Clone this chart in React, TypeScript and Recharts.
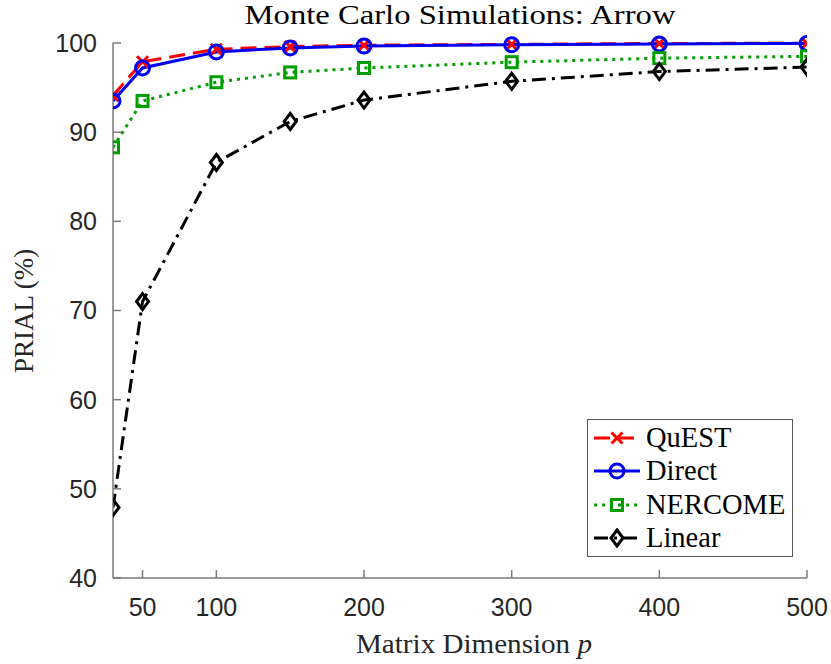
import React from "react";
import { LineChart, Line, XAxis, YAxis } from "recharts";

const dims = [30, 50, 100, 150, 200, 300, 400, 500];
const quest = [94.1, 97.9, 99.3, 99.6, 99.75, 99.85, 99.95, 99.97];
const direct = [93.5, 97.2, 99.0, 99.45, 99.65, 99.8, 99.9, 99.95];
const nercome = [88.3, 93.5, 95.6, 96.7, 97.2, 97.85, 98.3, 98.5];
const linear = [47.9, 71.0, 86.6, 91.2, 93.6, 95.7, 96.8, 97.3];

const xTicks = [50, 100, 200, 300, 400, 500];
const yTicks = [40, 50, 60, 70, 80, 90, 100];

const data = dims.map((p, i) => ({
  p,
  quest: quest[i],
  direct: direct[i],
  nercome: nercome[i],
  linear: linear[i],
}));

const SERIF = "'Liberation Serif', 'DejaVu Serif', serif";
const SANS = "'Liberation Sans', Arial, sans-serif";
const AXIS = "#7a7a7a";

const RED = "#ff0000";
const BLUE = "#0000ee";
const GREEN = "#009e00";
const BLACK = "#000000";

const series = [
  { key: "quest", name: "QuEST", color: RED, dash: "16 8", marker: "x" },
  { key: "direct", name: "Direct", color: BLUE, dash: undefined, marker: "o" },
  { key: "nercome", name: "NERCOME", color: GREEN, dash: "3 5", marker: "s" },
  { key: "linear", name: "Linear", color: BLACK, dash: "14 6 3 6", marker: "d" },
];

function Marker({ type, cx, cy, color }: { type: string; cx: number; cy: number; color: string }) {
  if (type === "x") {
    const r = 5.5;
    return (
      <g stroke={color} strokeWidth={3}>
        <line x1={cx - r} y1={cy - r} x2={cx + r} y2={cy + r} />
        <line x1={cx - r} y1={cy + r} x2={cx + r} y2={cy - r} />
      </g>
    );
  }
  if (type === "o") {
    return <circle cx={cx} cy={cy} r={7} fill="none" stroke={color} strokeWidth={3} />;
  }
  if (type === "s") {
    return <rect x={cx - 5.5} y={cy - 5.5} width={11} height={11} fill="none" stroke={color} strokeWidth={3} />;
  }
  const r = 8;
  return (
    <polygon
      points={`${cx},${cy - r} ${cx + r * 0.75},${cy} ${cx},${cy + r} ${cx - r * 0.75},${cy}`}
      fill="none"
      stroke={color}
      strokeWidth={3}
    />
  );
}

function LegendBox() {
  return (
    <div
      style={{
        position: "absolute",
        left: 587,
        top: 419,
        border: "1.5px solid #555",
        background: "#fff",
        width: 206,
        height: 138,
        boxSizing: "border-box",
        padding: "1px 0 0 4px",
      }}
    >
      {series.map((s) => (
        <div key={s.key} style={{ display: "flex", alignItems: "center", height: 33.5 }}>
          <svg width={50} height={20}>
            <line
              x1={2}
              y1={10}
              x2={48}
              y2={10}
              stroke={s.color}
              strokeWidth={3}
              strokeDasharray={s.dash}
            />
            <Marker type={s.marker} cx={25} cy={10} color={s.color} />
          </svg>
          <span style={{ fontFamily: SERIF, fontSize: 28.5, marginLeft: 4, color: "#000", lineHeight: 1 }}>
            {s.name}
          </span>
        </div>
      ))}
    </div>
  );
}

export default function App() {
  return (
    <div style={{ position: "absolute", left: 0, top: 0, width: 831, height: 664, background: "#fff" }}>
      <LineChart
        width={831}
        height={664}
        data={data}
        margin={{ top: 43, right: 24, bottom: 56, left: 0 }}
      >
        <XAxis
          dataKey="p"
          type="number"
          domain={[30, 500]}
          ticks={xTicks}
          height={30}
          tickSize={-8}
          tickMargin={28}
          stroke={AXIS}
          strokeWidth={1.5}
          tick={{ fill: "#262626", fontFamily: SANS, fontSize: 25 }}
          allowDataOverflow
        />
        <XAxis
          xAxisId="top"
          orientation="top"
          dataKey="p"
          type="number"
          domain={[30, 500]}
          ticks={xTicks}
          tickSize={-8}
          stroke={AXIS}
          strokeWidth={1.5}
          tickFormatter={() => ""}
          height={0}
        />
        <YAxis
          type="number"
          domain={[40, 100]}
          ticks={yTicks}
          width={113}
          tickSize={-8}
          tickMargin={24}
          stroke={AXIS}
          strokeWidth={1.5}
          tick={{ fill: "#262626", fontFamily: SANS, fontSize: 25 }}
        />
        <YAxis
          yAxisId="right"
          orientation="right"
          type="number"
          domain={[40, 100]}
          ticks={yTicks}
          width={0}
          tickSize={-8}
          stroke={AXIS}
          strokeWidth={1.5}
          tickFormatter={() => ""}
        />
        {series.map((s) => (
          <Line
            key={s.key}
            dataKey={s.key}
            name={s.name}
            type="linear"
            stroke={s.color}
            strokeWidth={3}
            strokeDasharray={s.dash}
            isAnimationActive={false}
            dot={(props: any) => (
              <Marker key={`${s.key}-${props.index}`} type={s.marker} cx={props.cx} cy={props.cy} color={s.color} />
            )}
            activeDot={false}
          />
        ))}
        <text
          x={460}
          y={24}
          textAnchor="middle"
          fontFamily={SERIF}
          fontSize={27}
          fill="#000"
          textLength={431}
          lengthAdjust="spacingAndGlyphs"
        >
          Monte Carlo Simulations: Arrow
        </text>
        <text
          x={474}
          y={653}
          textAnchor="middle"
          fontFamily={SERIF}
          fontSize={27}
          fill="#262626"
          textLength={236}
          lengthAdjust="spacingAndGlyphs"
        >
          Matrix Dimension <tspan fontStyle="italic">p</tspan>
        </text>
        <text
          x={33}
          y={311}
          textAnchor="middle"
          fontFamily={SERIF}
          fontSize={27}
          fill="#262626"
          transform="rotate(-90 33 311)"
        >
          PRIAL (%)
        </text>
      </LineChart>
      <LegendBox />
    </div>
  );
}
